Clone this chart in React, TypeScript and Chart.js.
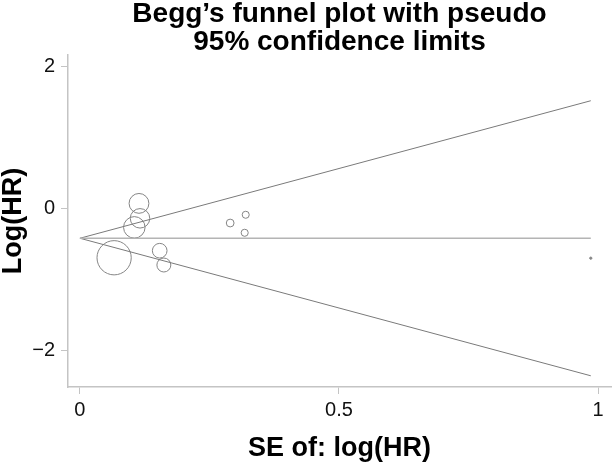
import React, { useEffect, useRef } from "react";
import { Chart, registerables } from "chart.js";

Chart.register(...registerables);

// Data
const SE: number[] = [0.066, 0.105, 0.114, 0.116, 0.154, 0.162, 0.29, 0.318, 0.32, 0.986];
const LOG_HR: number[] = [-0.694, -0.267, 0.07, -0.14, -0.595, -0.796, -0.206, -0.343, -0.09, -0.7];
const POOLED = -0.42;
const X_TICKS: number[] = [0, 0.5, 1];
const Y_TICKS: number[] = [-2, 0, 2];
const TITLE_LINES: string[] = ["Begg\u2019s funnel plot with pseudo", "95% confidence limits"];
const X_TITLE = "SE of: log(HR)";
const Y_TITLE = "Log(HR)";

const FONT = "'Liberation Sans', Arial, Helvetica, sans-serif";

const titlePlugin = {
  id: "customTitle",
  afterDraw(chart: any) {
    const { ctx, chartArea } = chart;
    const cx = (chartArea.left + chartArea.right) / 2;
    ctx.save();
    ctx.fillStyle = "#000";
    ctx.font = `bold 28px ${FONT}`;
    ctx.textAlign = "center";
    ctx.textBaseline = "middle";
    TITLE_LINES.forEach((line, i) => {
      ctx.fillText(line, cx, 14 + i * 28);
    });
    ctx.restore();
  },
};

export default function App() {
  const canvasRef = useRef<HTMLCanvasElement | null>(null);

  useEffect(() => {
    if (!canvasRef.current) return;
    const maxSE = Math.max(...SE);
    const z = 1.96;
    const points = SE.map((s, i) => ({ x: s, y: LOG_HR[i] }));
    const lineStyle = {
      type: "line" as const,
      showLine: true,
      pointRadius: 0,
      fill: false,
      tension: 0,
    };
    const chart = new Chart(canvasRef.current, {
      type: "scatter",
      data: {
        datasets: [
          {
            ...lineStyle,
            label: "pooled",
            data: [
              { x: 0, y: POOLED },
              { x: maxSE, y: POOLED },
            ],
            borderColor: "#b4b4b4",
            borderWidth: 1.6,
          },
          {
            ...lineStyle,
            label: "upper",
            data: [
              { x: 0, y: POOLED },
              { x: maxSE, y: POOLED + z * maxSE },
            ],
            borderColor: "#7a7a7a",
            borderWidth: 1,
          },
          {
            ...lineStyle,
            label: "lower",
            data: [
              { x: 0, y: POOLED },
              { x: maxSE, y: POOLED - z * maxSE },
            ],
            borderColor: "#7a7a7a",
            borderWidth: 1,
          },
          {
            label: "studies",
            data: points,
            pointStyle: "circle",
            pointRadius: (ctx: any) => {
              const s = SE[ctx.dataIndex];
              return s ? 1.13 / s : 2;
            },
            pointBackgroundColor: (ctx: any) =>
              SE[ctx.dataIndex] > 0.9 ? "#8a8a8a" : "rgba(0,0,0,0)",
            pointBorderColor: "#858585",
            pointBorderWidth: 1,
            showLine: false,
          },
        ],
      },
      options: {
        responsive: false,
        animation: false,
        events: [],
        layout: { autoPadding: false, padding: { top: 55, right: 1, left: 0, bottom: 0 } },
        plugins: {
          legend: { display: false },
          title: { display: false },
          tooltip: { enabled: false },
        },
        scales: {
          x: {
            type: "linear",
            min: -0.023,
            max: 1.025,
            afterBuildTicks: (scale: any) => {
              scale.ticks = X_TICKS.map((v) => ({ value: v }));
            },
            afterFit: (scale: any) => {
              scale.height = 77;
              scale.paddingLeft = 0;
              scale.paddingRight = 0;
            },
            ticks: {
              color: "#111",
              font: { family: FONT, size: 20 },
              padding: 4,
              maxRotation: 0,
              autoSkip: false,
              callback: (v: any) => String(v),
            },
            grid: {
              drawOnChartArea: false,
              drawTicks: true,
              tickLength: 7,
              color: "#c4c4c4",
              lineWidth: 1,
            },
            border: { display: true, color: "#c4c4c4", width: 1.5 },
            title: {
              display: true,
              text: X_TITLE,
              color: "#000",
              font: { family: FONT, size: 27, weight: "bold", lineHeight: 1 },
              padding: { top: 0, bottom: 2 },
            },
          },
          y: {
            type: "linear",
            min: -2.51,
            max: 2.155,
            afterBuildTicks: (scale: any) => {
              scale.ticks = Y_TICKS.map((v) => ({ value: v }));
            },
            afterFit: (scale: any) => {
              scale.width = 68;
              scale.paddingTop = 0;
              scale.paddingBottom = 0;
            },
            ticks: {
              color: "#111",
              font: { family: FONT, size: 20 },
              padding: 6,
              autoSkip: false,
              callback: (v: any) => (Number(v) < 0 ? "\u2212" + Math.abs(Number(v)) : String(v)),
            },
            grid: {
              drawOnChartArea: false,
              drawTicks: true,
              tickLength: 7,
              color: "#c4c4c4",
              lineWidth: 1,
            },
            border: { display: true, color: "#c4c4c4", width: 1.5 },
            title: {
              display: true,
              text: Y_TITLE,
              color: "#000",
              font: { family: FONT, size: 27, weight: "bold", lineHeight: 1 },
              padding: { top: 0, bottom: 0 },
            },
          },
        },
      },
      plugins: [titlePlugin],
    });
    return () => chart.destroy();
  }, []);

  return (
    <div style={{ position: "absolute", left: 0, top: 0, width: 612, height: 464, background: "#fff" }}>
      <canvas ref={canvasRef} width={612} height={464} style={{ width: 612, height: 464 }} />
    </div>
  );
}
